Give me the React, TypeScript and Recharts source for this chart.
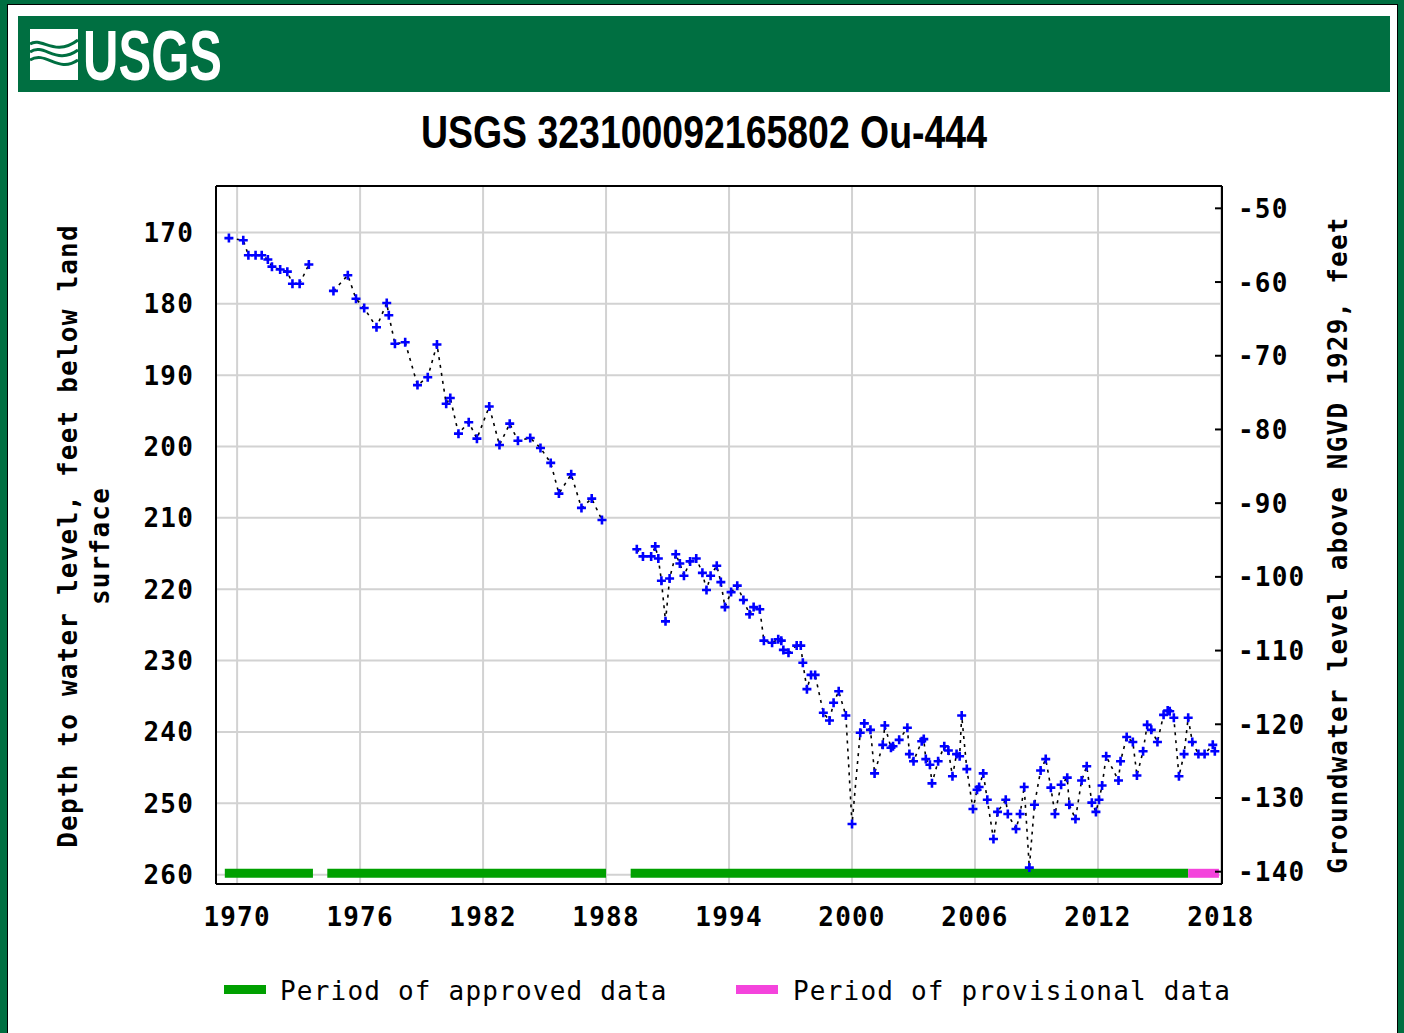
import { ComposedChart, Line, XAxis, YAxis, CartesianGrid, ReferenceLine } from 'recharts';

// measurement dates (decimal years) and depth to water, feet below land surface
// null depth = break in record
const measuredYears = [
  1969.6, 1970.3, 1970.55, 1970.9, 1971.2, 1971.5, 1971.7, 1972.1, 1972.45, 1972.7, 1973.05, 1973.5,
  1974.1,
  1974.7, 1975.4, 1975.8, 1976.2, 1976.8, 1977.3, 1977.4, 1977.7, 1978.2, 1978.8, 1979.3, 1979.75,
  1980.2, 1980.4, 1980.8, 1981.3, 1981.7, 1982.3, 1982.8, 1983.3, 1983.7, 1984.3, 1984.8, 1985.3,
  1985.7, 1986.3, 1986.8, 1987.3, 1987.8,
  1988.6,
  1989.5, 1989.8, 1990.2, 1990.4, 1990.55, 1990.7, 1990.9, 1991.1, 1991.4, 1991.6, 1991.8, 1992.1,
  1992.4, 1992.7, 1992.9, 1993.1, 1993.4, 1993.6, 1993.8, 1994.1, 1994.4, 1994.7, 1995.0, 1995.2,
  1995.5, 1995.7, 1996.1, 1996.4, 1996.55, 1996.65, 1996.9, 1997.3, 1997.5, 1997.6, 1997.8, 1998.0,
  1998.2, 1998.6, 1998.9, 1999.1, 1999.35, 1999.7, 2000.0, 2000.4, 2000.6, 2000.9, 2001.1, 2001.5,
  2001.6, 2001.9, 2002.0, 2002.3, 2002.7, 2002.8, 2003.0, 2003.4, 2003.5, 2003.6, 2003.8, 2003.9,
  2004.2, 2004.5, 2004.7, 2004.9, 2005.1, 2005.25, 2005.35, 2005.6, 2005.9, 2006.1, 2006.2, 2006.4,
  2006.6, 2006.9, 2007.1, 2007.5, 2007.6, 2008.0, 2008.2, 2008.4, 2008.65, 2008.9, 2009.2, 2009.45,
  2009.7, 2009.9, 2010.2, 2010.5, 2010.6, 2010.9, 2011.2, 2011.45, 2011.7, 2011.9, 2012.05, 2012.2,
  2012.4, 2013.0, 2013.1, 2013.4, 2013.7, 2013.9, 2014.2, 2014.4, 2014.6, 2014.9, 2015.2, 2015.4,
  2015.5, 2015.7, 2015.95, 2016.2, 2016.4, 2016.6, 2016.9, 2017.2, 2017.6, 2017.7,
];

const depthBelowLand: (number | null)[] = [
  170.8, 171.1, 173.2, 173.2, 173.2, 173.8, 174.8, 175.2, 175.5, 177.2, 177.2, 174.5,
  null,
  178.2, 176.0, 179.3, 180.6, 183.3, 179.9, 181.6, 185.6, 185.4, 191.4, 190.3, 185.7,
  194.0, 193.2, 198.2, 196.6, 198.9, 194.4, 199.8, 196.8, 199.2, 198.8, 200.2, 202.3,
  206.6, 203.9, 208.6, 207.3, 210.3,
  null,
  214.4, 215.4, 215.4, 214.0, 215.7, 218.8, 224.5, 218.5, 215.1, 216.4, 218.1, 216.1,
  215.7, 217.7, 220.1, 218.1, 216.7, 219.0, 222.5, 220.4, 219.5, 221.5, 223.5, 222.5,
  222.8, 227.2, 227.5, 227.0, 227.2, 228.5, 228.9, 227.9, 227.9, 230.3, 234.0, 232.0,
  232.0, 237.3, 238.4, 235.9, 234.3, 237.7, 252.9, 240.1, 238.8, 239.7, 245.8, 241.8,
  239.1, 242.2, 242.0, 241.1, 239.4, 243.1, 244.1, 241.3, 241.0, 243.8, 244.6, 247.2,
  244.1, 242.0, 242.6, 246.2, 243.1, 243.4, 237.7, 245.2, 250.8, 248.1, 247.7, 245.8,
  249.5, 255.0, 251.2, 249.5, 251.5, 253.6, 251.5, 247.7, 259.0, 250.2, 245.4, 243.8,
  247.8, 251.5, 247.4, 246.4, 250.2, 252.2, 246.8, 244.8, 249.9, 251.2, 249.5, 247.5,
  243.4, 246.8, 244.1, 240.7, 241.4, 246.1, 242.7, 239.0, 239.7, 241.4, 237.6, 237.0,
  237.1, 238.0, 246.2, 243.1, 238.0, 241.4, 243.1, 243.1, 241.8, 242.7,
];

const yearTicks = [1970, 1976, 1982, 1988, 1994, 2000, 2006, 2012, 2018];
const depthTicks = [170, 180, 190, 200, 210, 220, 230, 240, 250, 260];
const elevationTicks = [-50, -60, -70, -80, -90, -100, -110, -120, -130, -140];

const approvedPeriods: [number, number][] = [
  [1969.4, 1973.7],
  [1974.4, 1988.0],
  [1989.2, 2016.4],
];
const provisionalPeriods: [number, number][] = [[2016.4, 2017.9]];
const periodBarDepth = 259.8;

const data = measuredYears.map((year, i) => ({ year, depth: depthBelowLand[i] }));

const mono = '"DejaVu Sans Mono", "Liberation Mono", monospace';
const narrow = '"Liberation Sans Narrow", "Arial Narrow", "Liberation Sans", Arial, sans-serif';
const usgsGreen = '#006f41';

function PlusDot(props: any) {
  const { cx, cy, index } = props;
  if (!Number.isFinite(cx) || !Number.isFinite(cy)) return <g key={`p${index}`} />;
  return (
    <path
      key={`p${index}`}
      d={`M${cx - 4.5},${cy}H${cx + 4.5}M${cx},${cy - 4.5}V${cy + 4.5}`}
      stroke="#0000ff"
      strokeWidth={2.6}
    />
  );
}

const tickText = { fontFamily: mono, fontWeight: 'bold' as const, fontSize: 26, letterSpacing: 1.2, fill: '#000' };

function YearTick({ x, y, payload }: any) {
  return (
    <text x={x} y={y + 42} textAnchor="middle" {...tickText}>
      {payload.value}
    </text>
  );
}

function DepthTick({ x, y, payload }: any) {
  return (
    <text x={x - 22} y={y + 9.5} textAnchor="end" {...tickText}>
      {payload.value}
    </text>
  );
}

function ElevationTick({ x, y, payload }: any) {
  return (
    <g>
      <line x1={x - 7} x2={x} y1={y} y2={y} stroke="#000" strokeWidth={2} />
      <text x={x + 16} y={y + 9.5} textAnchor="start" {...tickText}>
        {payload.value}
      </text>
    </g>
  );
}

function Decorations() {
  const label = { fontFamily: mono, fontWeight: 'bold' as const, fontSize: 26, letterSpacing: 1.2, fill: '#000' };
  return (
    <svg width={1404} height={1033} style={{ position: 'absolute', left: 0, top: 0 }}>
      {/* header bar + logo */}
      <rect x={18} y={16} width={1372} height={76} fill={usgsGreen} />
      <rect x={30} y={29} width={48} height={51} fill="#fff" />
      <path d="M30,44 C42,36 54,58 78,40" stroke={usgsGreen} strokeWidth={3} fill="none" />
      <path d="M30,52 C44,42 56,66 78,50" stroke={usgsGreen} strokeWidth={3} fill="none" />
      <path d="M30,60 C46,50 58,74 78,60" stroke={usgsGreen} strokeWidth={3} fill="none" />
      <text x={83} y={80} fontFamily={narrow} fontWeight="bold" fontSize={70} fill="#fff" textLength={139} lengthAdjust="spacingAndGlyphs">
        USGS
      </text>

      {/* title */}
      <text x={421} y={148} fontFamily={narrow} fontWeight="bold" fontSize={46} fill="#000" textLength={566} lengthAdjust="spacingAndGlyphs">
        USGS 323100092165802 Ou-444
      </text>

      {/* axis titles */}
      <text transform="translate(77,536) rotate(-90)" textAnchor="middle" {...label}>
        Depth to water level, feet below land
      </text>
      <text transform="translate(109,546) rotate(-90)" textAnchor="middle" {...label}>
        surface
      </text>
      <text transform="translate(1347,545) rotate(-90)" textAnchor="middle" {...label}>
        Groundwater level above NGVD 1929, feet
      </text>

      {/* legend */}
      <rect x={224} y={985} width={42} height={9} fill="#00a000" />
      <text x={280} y={1000} fontFamily={mono} fontSize={26} letterSpacing={1.2} fill="#000">
        Period of approved data
      </text>
      <rect x={736} y={985} width={42} height={9} fill="#f444dc" />
      <text x={793} y={1000} fontFamily={mono} fontSize={26} letterSpacing={1.2} fill="#000">
        Period of provisional data
      </text>
    </svg>
  );
}

export default function App() {
  return (
    <div style={{ position: 'absolute', left: 0, top: 0, width: 1404, height: 1033, background: usgsGreen, overflow: 'hidden' }}>
      <div
        style={{
          position: 'absolute',
          left: 7,
          top: 4,
          width: 1389,
          height: 1040,
          background: '#fff',
          border: '1px solid #000',
        }}
      />
      <Decorations />
      <div style={{ position: 'absolute', left: 0, top: 0 }}>
        <ComposedChart width={1404} height={1033} data={data} margin={{ top: 185, right: 0, bottom: 89, left: 0 }}>
          <CartesianGrid stroke="#d2d2d2" strokeWidth={2} />
          <XAxis
            dataKey="year"
            type="number"
            domain={[1968.97, 2018.05]}
            ticks={yearTicks}
            interval={0}
            height={60}
            tickSize={0}
            tickMargin={0}
            tick={<YearTick />}
            axisLine={{ stroke: '#000', strokeWidth: 2 }}
            allowDataOverflow
          />
          <XAxis
            xAxisId="top"
            orientation="top"
            type="number"
            domain={[1968.97, 2018.05]}
            height={1}
            tick={false}
            tickLine={false}
            axisLine={{ stroke: '#000', strokeWidth: 2 }}
          />
          <YAxis
            reversed
            type="number"
            domain={[163.5, 261.3]}
            ticks={depthTicks}
            interval={0}
            width={216}
            tickSize={0}
            tickMargin={0}
            tick={<DepthTick />}
            axisLine={{ stroke: '#000', strokeWidth: 2 }}
            allowDataOverflow
          />
          <YAxis
            yAxisId="right"
            orientation="right"
            type="number"
            domain={[-141.67, -46.97]}
            ticks={elevationTicks}
            interval={0}
            width={182}
            tickSize={0}
            tickMargin={0}
            tick={<ElevationTick />}
            axisLine={{ stroke: '#000', strokeWidth: 2 }}
            allowDataOverflow
          />
          {approvedPeriods.map(([a, b]) => (
            <ReferenceLine
              key={`a${a}`}
              segment={[{ x: a, y: periodBarDepth }, { x: b, y: periodBarDepth }]}
              stroke="#00a000"
              strokeWidth={9}
              ifOverflow="visible"
            />
          ))}
          {provisionalPeriods.map(([a, b]) => (
            <ReferenceLine
              key={`p${a}`}
              segment={[{ x: a, y: periodBarDepth }, { x: b, y: periodBarDepth }]}
              stroke="#f444dc"
              strokeWidth={9}
              ifOverflow="visible"
            />
          ))}
          <Line
            dataKey="depth"
            type="linear"
            stroke="#000"
            strokeWidth={1.6}
            strokeDasharray="3 5"
            dot={PlusDot}
            activeDot={false}
            isAnimationActive={false}
          />
        </ComposedChart>
      </div>
    </div>
  );
}
